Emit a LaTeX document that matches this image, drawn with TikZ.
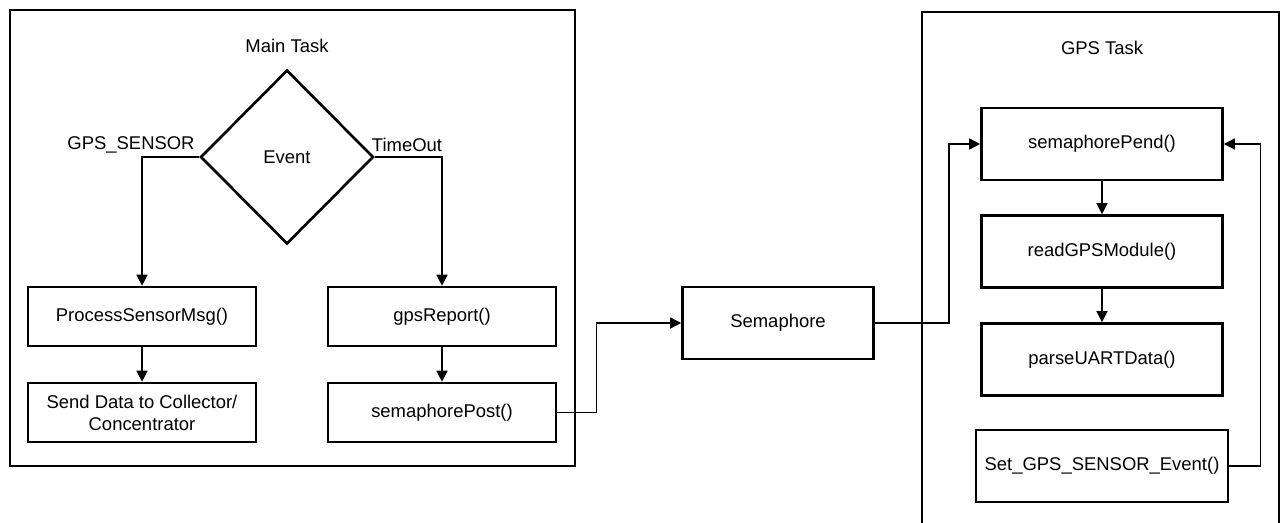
\documentclass[tikz,border=0pt]{standalone}
\usepackage{fontspec}
\setmainfont{Liberation Sans}
\usetikzlibrary{shapes.geometric, arrows.meta}

\begin{document}
\begin{tikzpicture}[x=0.02cm, y=-0.02cm,
        taskframe/.style={line width=1.5pt},
        func/.style={
                rectangle,
                draw,
                line width=1.5pt,
                minimum width=4.56cm,
                minimum height=1.18cm,
                align=center,
                inner sep=2pt,
        },
        decision/.style={
                diamond,
                draw,
                line width=1.5pt,
                minimum width=3.46cm,
                minimum height=3.48cm,
                inner sep=0pt,
        },
        flow/.style={line width=0.8pt, -{Triangle[length=0.22cm, width=0.22cm]}},
        font=\fontsize{10.5}{12.5}\selectfont]
            \useasboundingbox (0, 0) rectangle (1282, 523);
            % main task
            \draw[taskframe] (10, 10) rectangle (575, 466);
            \node (maintitle) at (287, 46) {Main Task};
            \node[decision] (event) at (287, 157) {Event};
            \node (lblsensor) at (131, 145) {GPS\_SENSOR};
            \node (lbltimeout) at (407, 145) {TimeOut};
            \node[func] (procmsg) at (142, 316.5) {ProcessSensorMsg()};
            \node[func] (gpsreport) at (442, 316.5) {gpsReport()};
            \node[func] (senddata) at (142, 412.5) {Send Data to Collector/\\Concentrator};
            \node[func] (sempost) at (442, 412.5) {semaphorePost()};
            % semaphore
            \node[func, minimum width=3.82cm, minimum height=1.44cm] (semaphore) at (778, 323) {Semaphore};
            % gps task
            \draw[taskframe, line width=1.1pt] (922, 560) -- (922, 12) -- (1279, 12) -- (1279, 560);
            \node (gpstitle) at (1102, 48) {GPS Task};
            \node[func, minimum width=4.82cm, minimum height=1.44cm] (sempend) at (1102, 144) {semaphorePend()};
            \node[func, minimum width=4.82cm, minimum height=1.44cm] (readgps) at (1102, 251.5) {readGPSModule()};
            \node[func, minimum width=4.82cm, minimum height=1.44cm] (parseuart) at (1102, 359.5) {parseUARTData()};
            \node[func, minimum width=5.04cm, minimum height=1.44cm] (setevent) at (1102, 466) {Set\_GPS\_SENSOR\_Event()};
            % connectors
            \draw[flow] (event.west) -| (procmsg.north);
            \draw[flow] (event.east) -| (gpsreport.north);
            \draw[flow] (procmsg.south) -- (senddata.north);
            \draw[flow] (gpsreport.south) -- (sempost.north);
            \draw[flow] (sempost.east) -- ++(39, 0) |- (semaphore.west);
            \draw[flow] (semaphore.east) -- ++(74, 0) |- (sempend.west);
            \draw[flow] (sempend.south) -- (readgps.north);
            \draw[flow] (readgps.south) -- (parseuart.north);
            \draw[flow] (setevent.east) -- ++(31, 0) |- (sempend.east);
        \end{tikzpicture}
\end{document}
